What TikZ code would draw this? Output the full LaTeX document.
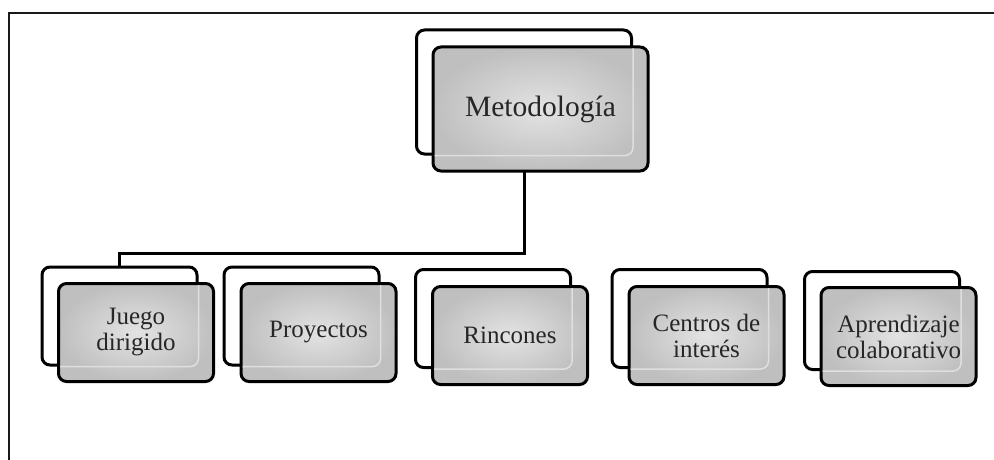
\documentclass[tikz,border=0pt]{standalone}
\usepackage{fontspec}
\setmainfont{Liberation Serif}
\begin{document}
\begin{tikzpicture}[x=1pt,y=-1pt,
  frame/.style={line width=2pt, draw=black!90},
  conn/.style={line width=3pt, draw=black},
  backbox/.style={draw=black, line width=3pt, rounded corners=8pt, fill=white, inner sep=0pt},
  frontbox/.style={draw=black, line width=3pt, rounded corners=8pt, inner color=gray!22, outer color=gray!50, inner sep=0pt, align=center, text=black!85},
  topsize/.style={minimum width=215pt, minimum height=124pt},
  childsize/.style={minimum width=155pt, minimum height=98pt},
  toptext/.style={font=\fontsize{29.5}{31}\selectfont},
  childtext/.style={font=\fontsize{25}{26}\selectfont},
  ghost/.style={draw=white!75!gray, line width=1.5pt, rounded corners=8pt, shorten <=3pt, shorten >=3pt}
]
\useasboundingbox (0,0) rectangle (994,460);
\fill[white] (0,0) rectangle (994,460);
\draw[frame] (9,460) -- (9,13) -- (994,13);

% back boxes
\node[backbox, topsize] (metb) at (524,92) {};
\node[backbox, childsize] (juegob) at (119.5,316) {};
\node[backbox, childsize] (proyb) at (301.5,316) {};
\node[backbox, childsize] (rincb) at (493,318.5) {};
\node[backbox, childsize] (centb) at (689.5,318.5) {};
\node[backbox, childsize] (aprb) at (882,320.5) {};

% connector
\coordinate (bend) at (524,253);
\draw[conn] (metb.south) -- (bend) -| (juegob.north);

% front boxes
\node[frontbox, topsize, toptext] (metf) at (540.5,109) {Metodología};
\node[frontbox, childsize, childtext] (juegof) at (136,332.5) {Juego\\dirigido};
\node[frontbox, childsize, childtext] (proyf) at (318.5,332.5) {Proyectos};
\node[frontbox, childsize, childtext] (rincf) at (510,335.5) {Rincones};
\node[frontbox, childsize, childtext] (centf) at (706.5,335.5) {Centros de\\interés};
\node[frontbox, childsize, childtext] (aprf) at (898.5,336.5) {Aprendizaje\\colaborativo};

% faint traces of the back boxes seen through the front boxes
\foreach \n in {met,juego,proy,rinc,cent,apr}{
  \draw[ghost] (\n b.east |- \n f.north) -- (\n b.south east) -- (\n b.south -| \n f.west);
}
\end{tikzpicture}
\end{document}
